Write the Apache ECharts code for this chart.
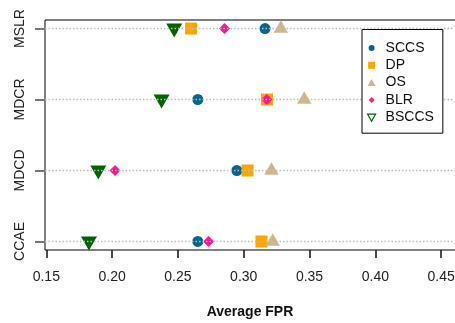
<!DOCTYPE html>
<html>
<head>
<meta charset="utf-8">
<script src="https://cdn.jsdelivr.net/npm/echarts@6/dist/echarts.min.js"></script>
<style>html,body{margin:0;padding:0;background:#fff;}#c{width:455px;height:323px;}</style>
</head>
<body>
<div id="c"></div>
<script>
const categories = ['CCAE', 'MDCD', 'MDCR', 'MSLR'];
const xTicks = [0.15, 0.20, 0.25, 0.30, 0.35, 0.40, 0.45];
const sccs  = [0.2651, 0.2948, 0.2651, 0.3162];
const dp    = [0.3135, 0.3029, 0.3177, 0.2600];
const os    = [0.3220, 0.3211, 0.3460, 0.3282];
const blr   = [0.2733, 0.2022, 0.3175, 0.2854];
const bsccs = [0.1824, 0.1895, 0.2376, 0.2472];

const FONT = 'Liberation Sans, Arial, Helvetica, sans-serif';
const catPos = categories.map((c, i) => i + 1);
const toData = arr => arr.map((v, i) => [v, catPos[i]]);

const triDown = 'path://M0,0 L2,0 L1,1.75 Z';

const chart = echarts.init(document.getElementById('c'), null, {renderer: 'canvas'});
chart.setOption({
  animation: false,
  backgroundColor: '#fff',
  textStyle: {fontFamily: FONT},
  grid: {left: 45, top: 20, width: 416, height: 230, show: true, borderColor: '#000', borderWidth: 1, containLabel: false, outerBoundsMode: 'none'},
  xAxis: {
    type: 'value', min: 0.149, max: 0.4651,
    splitLine: {show: false}, axisLine: {show: false},
    axisTick: {show: true, customValues: xTicks, length: 8, lineStyle: {color: '#111', width: 1.5}},
    axisLabel: {customValues: xTicks, formatter: v => v.toFixed(2), margin: 20, fontSize: 14, color: '#222', fontFamily: FONT},
    name: 'Average FPR', nameLocation: 'middle', nameGap: 55,
    nameTextStyle: {fontSize: 14, fontWeight: 'bold', color: '#111', fontFamily: FONT, padding: [0, 6, 0, 0]}
  },
  yAxis: {
    type: 'value', min: 0.88, max: 4.12,
    splitLine: {show: false}, axisLine: {show: false},
    axisTick: {show: true, customValues: catPos, length: 10, lineStyle: {color: '#777', width: 2}},
    axisLabel: {customValues: catPos, formatter: v => categories[Math.round(v) - 1], rotate: 90, margin: 18, fontSize: 14, color: '#222', fontFamily: FONT}
  },
  legend: {
    orient: 'vertical', left: 362, top: 29.5,
    padding: [11.5, 9, 9, 3], itemGap: 3.3,
    itemWidth: 18, itemHeight: 12,
    backgroundColor: '#fff', borderColor: '#000', borderWidth: 1, borderRadius: 0,
    textStyle: {fontSize: 14, color: '#111', fontFamily: FONT},
    selectedMode: false,
    data: [
      {name: 'SCCS', icon: 'path://M0,0M12,12M9,6A3,3,0,1,1,3,6A3,3,0,1,1,9,6Z'},
      {name: 'DP', icon: 'path://M0,0M12,12M2.5,2.5L9.5,2.5L9.5,9.5L2.5,9.5Z'},
      {name: 'OS', icon: 'path://M0,0M12,12M6,2.5L10,9.5L2,9.5Z'},
      {name: 'BLR', icon: 'path://M0,0M12,12M6,3L9,6L6,9L3,6Z'},
      {name: 'BSCCS', icon: 'path://M0,0M12,12M2,3L10,3L6,10Z', itemStyle: {color: 'rgba(0,0,0,0)', borderColor: '#006400', borderWidth: 1.2}}
    ]
  },
  series: [
    {name: 'SCCS', type: 'scatter', data: toData(sccs), symbol: 'circle', symbolSize: 11, itemStyle: {color: '#00688B', opacity: 1}, z: 2},
    {name: 'DP', type: 'scatter', data: toData(dp), symbol: 'rect', symbolSize: 12, itemStyle: {color: '#FFA500', opacity: 1}, z: 2},
    {name: 'OS', type: 'scatter', data: toData(os), symbol: 'triangle', symbolSize: [14.5, 12.5], symbolOffset: [0, -2], itemStyle: {color: '#D2B48C', opacity: 1}, z: 2},
    {name: 'BLR', type: 'scatter', data: toData(blr), symbol: 'diamond', symbolSize: 11, itemStyle: {color: '#FF1493', opacity: 1}, z: 2},
    {name: 'BSCCS', type: 'scatter', data: toData(bsccs), symbol: triDown, symbolSize: [16, 14], symbolOffset: [0, 2], itemStyle: {color: '#006400', opacity: 1}, z: 2},
    {
      name: 'gridlines', type: 'scatter', data: [], z: 3, silent: true,
      markLine: {
        z: 3, silent: true, symbol: ['none', 'none'], label: {show: false},
        lineStyle: {type: [1.5, 2], color: '#bdbdbd', width: 1.3},
        emphasis: {disabled: true},
        data: catPos.map(p => ({yAxis: p}))
      }
    }
  ]
});
</script>
</body>
</html>
